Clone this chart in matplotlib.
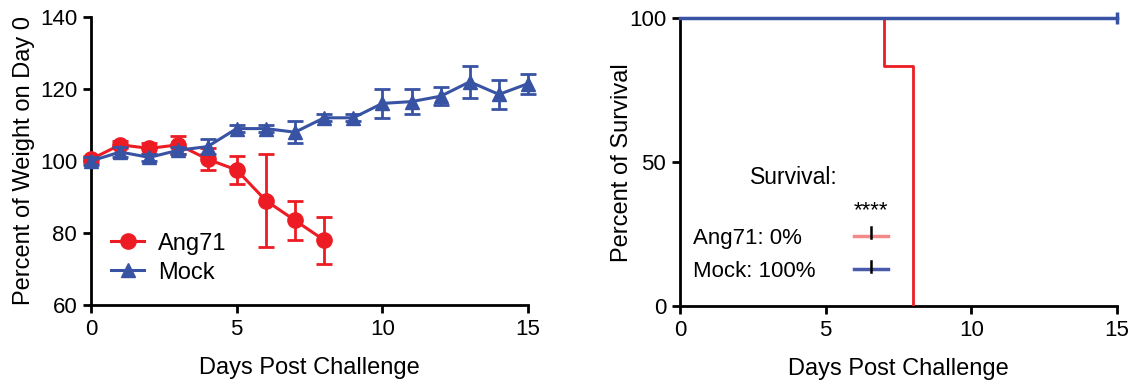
"""
Weight change and survival after Ang71 challenge vs mock.
"""

import matplotlib.pyplot as plt
from matplotlib.lines import Line2D

plt.rcParams.update({
    "font.family": ["Liberation Sans", "DejaVu Sans"],
    "font.size": 15,
})

RED = "#ED1C24"
BLUE = "#3953A4"

# weight curves (mean +/- sd, % of day 0)
days_ang = [0, 1, 2, 3, 4, 5, 6, 7, 8]
weight_ang = [100.5, 104.5, 103.5, 104.5, 100.5, 97.5, 89, 83.5, 78]
err_ang = [1, 1, 1.5, 2.5, 3, 3.8, 13, 5.5, 6.5]

days_mock = list(range(16))
weight_mock = [100, 102.5, 101, 103, 104, 109, 109, 108, 112, 112,
               116, 116.5, 118, 122, 118.5, 121.5]
err_mock = [1, 1.5, 1, 1, 2, 1, 1, 3, 1, 1, 4, 3.5, 2.5, 4.5, 4, 2.8]

# survival (Kaplan-Meier steps)
surv_t_ang = [0, 7, 8]
surv_ang = [100, 83.3, 0]
surv_t_mock = [0, 15]
surv_mock = [100, 100]

fig = plt.figure(figsize=(11.41, 3.87), dpi=100)
ax1 = fig.add_axes([0.0798, 0.212, 0.383, 0.744])
ax2 = fig.add_axes([0.596, 0.209, 0.383, 0.744])


def style(ax):
    for s in ["top", "right"]:
        ax.spines[s].set_visible(False)
    for s in ["left", "bottom"]:
        ax.spines[s].set_linewidth(2)
    ax.tick_params(width=2, length=6, labelsize=16, pad=4)


# ---- weight panel
ax1.errorbar(days_ang, weight_ang, yerr=err_ang, color=RED, lw=2.2,
             marker="o", ms=11, capsize=6, capthick=2, elinewidth=2,
             clip_on=False, zorder=3)
ax1.errorbar(days_mock, weight_mock, yerr=err_mock, color=BLUE, lw=2.2,
             marker="^", ms=10, capsize=6, capthick=2, elinewidth=2,
             clip_on=False, zorder=4)
ax1.set_xlim(0, 15)
ax1.set_ylim(60, 140)
ax1.set_xticks([0, 5, 10, 15])
ax1.set_yticks([60, 80, 100, 120, 140])
ax1.set_xlabel("Days Post Challenge", fontsize=17, labelpad=12)
ax1.set_ylabel("Percent of Weight on Day 0", fontsize=17)
ax1.yaxis.set_label_coords(-0.129, 0.5)
style(ax1)
handles = [
    Line2D([], [], color=RED, lw=2.2, marker="o", ms=11),
    Line2D([], [], color=BLUE, lw=2.2, marker="^", ms=10),
]
ax1.legend(handles, ["Ang71", "Mock"], loc="lower left",
           bbox_to_anchor=(-0.003, 0.0), frameon=False, fontsize=17,
           handlelength=1.4, handletextpad=0.6, labelspacing=0.3)

# ---- survival panel
ax2.step(surv_t_ang, surv_ang, where="post", color=RED, lw=2, zorder=3)
ax2.step(surv_t_mock, surv_mock, where="post", color=BLUE, lw=2.5,
         zorder=4, clip_on=False)
ax2.plot([surv_t_mock[-1]], [surv_mock[-1]], marker="|", ms=8, mew=2.5,
         color=BLUE, clip_on=False, zorder=4)
ax2.set_xlim(0, 15)
ax2.set_ylim(0, 100)
ax2.set_xticks([0, 5, 10, 15])
ax2.set_yticks([0, 50, 100])
ax2.set_xlabel("Days Post Challenge", fontsize=17, labelpad=12)
ax2.set_ylabel("Percent of Survival", fontsize=17)
ax2.yaxis.set_label_coords(-0.108, 0.5)
style(ax2)

# survival key
tr = ax2.transAxes
ax2.text(0.16, 0.445, "Survival:", transform=tr, fontsize=16.5, va="center")
ax2.text(0.437, 0.33, "****", transform=tr, fontsize=16, va="center",
         ha="center")
ax2.text(0.03, 0.235, "Ang71: 0%", transform=tr, fontsize=16, va="center")
ax2.text(0.03, 0.12, "Mock: 100%", transform=tr, fontsize=16, va="center")
for y, c in [(0.245, "#F28A8C"), (0.128, "#4A5AAA")]:
    ax2.plot([0.397, 0.477], [y, y], color=c, lw=2.5, transform=tr)
    ax2.plot([0.437, 0.437], [y - 0.01, y + 0.03], color="black", lw=1.8,
             transform=tr)

fig.savefig("out.png", dpi=100)
